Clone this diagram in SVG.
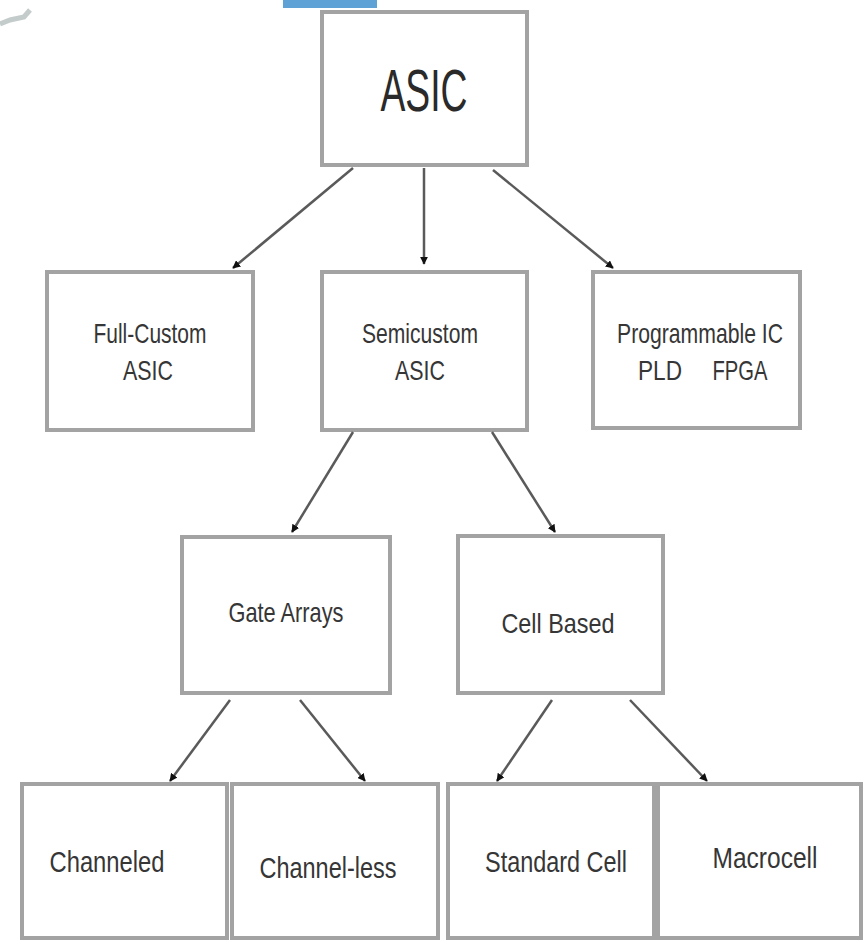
<svg xmlns="http://www.w3.org/2000/svg" width="863" height="940" viewBox="0 0 863 940">
<defs>
<style>
.box{fill:#ffffff;stroke:#a3a3a3;stroke-width:4}
.lbl{font-family:"Liberation Sans",Arial,sans-serif;fill:#363636;text-anchor:middle;font-size:28px}
.big{font-family:"Liberation Sans",Arial,sans-serif;fill:#2a2a2a;text-anchor:middle;font-size:59px}
.conn line{stroke:#5a5a5a;stroke-width:2.5;marker-end:url(#ah)}
</style>
<marker id="ah" viewBox="0 0 10 10" refX="9" refY="5" markerWidth="3.2" markerHeight="3.2" orient="auto" markerUnits="strokeWidth">
<path d="M0,0 L10,5 L0,10 z" fill="#111111"/>
</marker>
</defs>
<rect x="0" y="0" width="863" height="940" fill="#ffffff"/>
<rect x="283" y="0" width="94" height="8" fill="#5fa3d6"/>
<path d="M0,24 L10,20 L24,17 L30,10" fill="none" stroke="#c4cbcb" stroke-width="5"/>

<g id="asic">
<rect class="box" x="322" y="12" width="205" height="153"/>
<text class="big" x="424" y="111" textLength="87" lengthAdjust="spacingAndGlyphs">ASIC</text>
</g>
<g id="fullcustom">
<rect class="box" x="47" y="272" width="206" height="158"/>
<text class="lbl" x="150" y="343" textLength="113" lengthAdjust="spacingAndGlyphs">Full-Custom</text>
<text class="lbl" x="148" y="380" textLength="50" lengthAdjust="spacingAndGlyphs">ASIC</text>
</g>
<g id="semicustom">
<rect class="box" x="322" y="272" width="205" height="158"/>
<text class="lbl" x="420" y="343" textLength="116" lengthAdjust="spacingAndGlyphs">Semicustom</text>
<text class="lbl" x="420" y="380" textLength="50" lengthAdjust="spacingAndGlyphs">ASIC</text>
</g>
<g id="programmable">
<rect class="box" x="593" y="272" width="207" height="156"/>
<text class="lbl" x="700" y="343" textLength="166" lengthAdjust="spacingAndGlyphs">Programmable IC</text>
<text class="lbl" x="660" y="380" textLength="44" lengthAdjust="spacingAndGlyphs">PLD</text>
<text class="lbl" x="740" y="380" textLength="55" lengthAdjust="spacingAndGlyphs">FPGA</text>
</g>
<g id="gatearrays">
<rect class="box" x="182" y="537" width="208" height="156"/>
<text class="lbl" x="286" y="622" textLength="115" lengthAdjust="spacingAndGlyphs">Gate Arrays</text>
</g>
<g id="cellbased">
<rect class="box" x="458" y="536" width="205" height="157"/>
<text class="lbl" x="558" y="633" textLength="113" lengthAdjust="spacingAndGlyphs">Cell Based</text>
</g>
<g id="channeled">
<rect class="box" x="22" y="784" width="205" height="154"/>
<text class="lbl" x="107" y="872" textLength="115" lengthAdjust="spacingAndGlyphs" style="font-size:29px">Channeled</text>
</g>
<g id="channelless">
<rect class="box" x="232" y="784" width="206" height="154"/>
<text class="lbl" x="328" y="878" textLength="137" lengthAdjust="spacingAndGlyphs" style="font-size:29px">Channel-less</text>
</g>
<g id="standardcell">
<rect class="box" x="448" y="784" width="206" height="154"/>
<text class="lbl" x="556" y="872" textLength="142" lengthAdjust="spacingAndGlyphs" style="font-size:29px">Standard Cell</text>
</g>
<g id="macrocell">
<rect class="box" x="658" y="784" width="203" height="154"/>
<text class="lbl" x="765" y="868" textLength="105" lengthAdjust="spacingAndGlyphs" style="font-size:29px">Macrocell</text>
</g>

<g id="connectors" class="conn">
<line x1="353" y1="168" x2="233" y2="268"/>
<line x1="424" y1="168" x2="424" y2="264"/>
<line x1="493" y1="170" x2="613" y2="268"/>
<line x1="353" y1="432" x2="292" y2="532"/>
<line x1="492" y1="432" x2="555" y2="532"/>
<line x1="230" y1="700" x2="170" y2="781"/>
<line x1="300" y1="700" x2="365" y2="781"/>
<line x1="552" y1="700" x2="497" y2="781"/>
<line x1="630" y1="700" x2="707" y2="781"/>
</g>
</svg>
